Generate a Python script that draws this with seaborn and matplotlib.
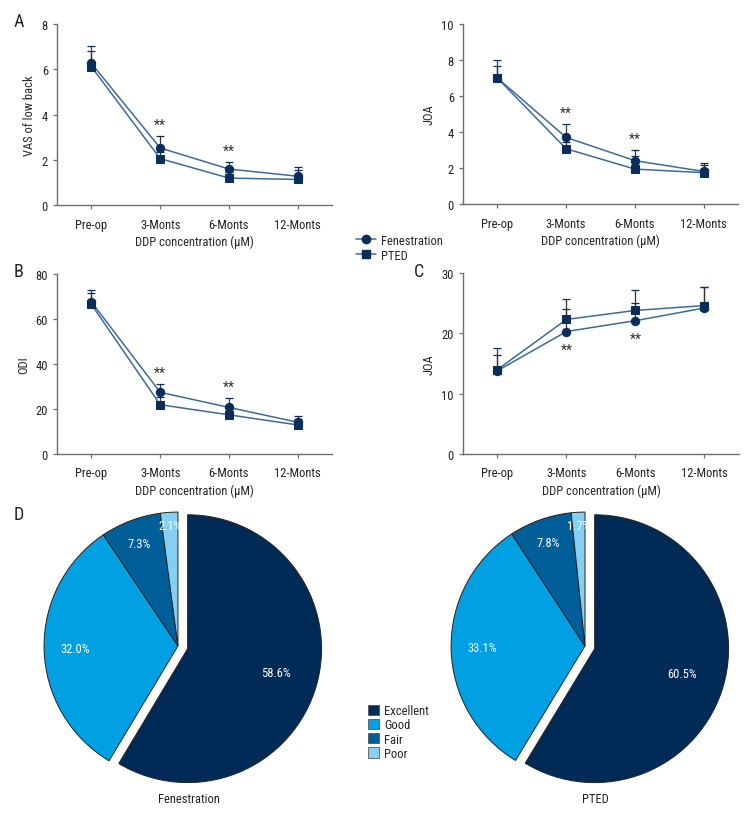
import matplotlib
matplotlib.use("Agg")
import matplotlib.pyplot as plt
from matplotlib import font_manager
from matplotlib.patches import Patch
import numpy as np
import pandas as pd
import seaborn as sns

# time points
times = ["Pre-op", "3-Monts", "6-Monts", "12-Monts"]
groups = ["Fenestration", "PTED"]
sig_times = ["3-Monts", "6-Monts"]

# A: VAS of low back
vas_fen = [6.26, 2.52, 1.59, 1.27]
vas_fen_sd = [0.75, 0.54, 0.32, 0.42]
vas_pted = [6.11, 2.05, 1.19, 1.13]
vas_pted_sd = [0.68, 0.30, 0.25, 0.42]

# A right: JOA
joa1_fen = [7.0, 3.70, 2.41, 1.81]
joa1_fen_sd = [0.98, 0.74, 0.61, 0.47]
joa1_pted = [7.0, 3.07, 1.94, 1.74]
joa1_pted_sd = [0.69, 0.40, 0.74, 0.40]

# B: ODI
odi_fen = [67.6, 27.4, 20.7, 14.1]
odi_fen_sd = [5.2, 3.7, 4.4, 3.0]
odi_pted = [66.5, 21.9, 17.4, 12.9]
odi_pted_sd = [5.2, 3.6, 4.0, 2.6]

# C: JOA
joa2_fen = [13.8, 20.3, 22.1, 24.2]
joa2_fen_sd = [2.6, 3.7, 3.0, 3.4]
joa2_pted = [14.0, 22.3, 23.8, 24.6]
joa2_pted_sd = [3.5, 3.4, 3.3, 3.0]

# D: pies
grades = ["Excellent", "Good", "Fair", "Poor"]
pie_fen = [58.6, 32.0, 7.3, 2.1]
pie_pted = [60.5, 33.1, 7.8, 1.7]

sns.set_style("ticks")
names = {f.name for f in font_manager.fontManager.ttflist}
narrow = [n for n in ["Liberation Sans Narrow", "Roboto Condensed",
                      "Open Sans Condensed", "DejaVu Sans"] if n in names]
plt.rcParams["font.family"] = narrow + ["DejaVu Sans"]
plt.rcParams["font.stretch"] = "condensed"
plt.rcParams["font.size"] = 9

line_col = "#3d6a9c"
mark_col = "#0b2d5b"
axis_col = "#6e6e6e"
pie_cols = ["#002b57", "#00a0e2", "#005f99", "#84d0f4"]
fs = 9


def long_df(fen, fen_sd, pted, pted_sd):
    return pd.DataFrame({
        "time": times * 2,
        "group": [groups[0]] * 4 + [groups[1]] * 4,
        "value": fen + pted,
        "sd": fen_sd + pted_sd,
    })


def line_panel(ax, df, ymax, yticks, ylabel, star_below=False):
    for g in groups:
        sub = df[df["group"] == g]
        ax.errorbar(sub["time"], sub["value"],
                    yerr=[[0] * len(sub), sub["sd"]],
                    fmt="none", ecolor="#333333", elinewidth=0.9,
                    capsize=3, capthick=0.9, zorder=1)
    sns.lineplot(data=df, x="time", y="value", hue="group", style="group",
                 markers={"Fenestration": "o", "PTED": "s"}, dashes=False,
                 palette={"Fenestration": line_col, "PTED": line_col},
                 sort=False, errorbar=None, lw=1.1, markersize=6,
                 ax=ax, legend=False, zorder=3)
    for ln in ax.lines:
        ln.set_markerfacecolor(mark_col)
        ln.set_markeredgecolor(mark_col)
    fen = df[df["group"] == groups[0]]
    for t in sig_times:
        row = fen[fen["time"] == t].iloc[0]
        if star_below:
            ax.annotate("**", xy=(t, row["value"]), xytext=(0, -13),
                        textcoords="offset points", ha="center", va="center",
                        fontsize=10, color="#333333")
        else:
            ax.annotate("**", xy=(t, row["value"] + row["sd"]), xytext=(0, 8),
                        textcoords="offset points", ha="center", va="center",
                        fontsize=10, color="#333333")
    ax.set_xlim(-0.5, 3.5)
    ax.set_ylim(0, ymax)
    ax.set_yticks(yticks)
    ax.set_ylabel(ylabel, fontsize=fs)
    ax.set_xlabel("DDP concentration (μM)", fontsize=fs, labelpad=3)
    sns.despine(ax=ax)
    for s in ["left", "bottom"]:
        ax.spines[s].set_color(axis_col)
        ax.spines[s].set_linewidth(1.0)
    ax.tick_params(colors=axis_col, labelcolor="#222222", labelsize=fs,
                   length=3, width=0.9)
    ax.tick_params(axis="x", pad=6)


fig = plt.figure(figsize=(7.56, 8.28), dpi=100)

ax_a = fig.add_axes([0.0754, 0.7512, 0.364, 0.2186])
ax_a2 = fig.add_axes([0.6124, 0.7524, 0.3638, 0.2174])
ax_b = fig.add_axes([0.0754, 0.4505, 0.364, 0.2174])
ax_c = fig.add_axes([0.6124, 0.4505, 0.3651, 0.2186])

line_panel(ax_a, long_df(vas_fen, vas_fen_sd, vas_pted, vas_pted_sd),
           8, [0, 2, 4, 6, 8], "VAS of low back")
line_panel(ax_a2, long_df(joa1_fen, joa1_fen_sd, joa1_pted, joa1_pted_sd),
           10, [0, 2, 4, 6, 8, 10], "JOA")
line_panel(ax_b, long_df(odi_fen, odi_fen_sd, odi_pted, odi_pted_sd),
           80, [0, 20, 40, 60, 80], "ODI")
line_panel(ax_c, long_df(joa2_fen, joa2_fen_sd, joa2_pted, joa2_pted_sd),
           30, [0, 10, 20, 30], "JOA", star_below=True)

# legend for line plots
handles = [plt.Line2D([], [], color=line_col, lw=1.1, marker=m, markersize=6,
                      markerfacecolor=mark_col, markeredgecolor=mark_col)
           for m in ["o", "s"]]
fig.legend(handles, groups, loc="upper left", bbox_to_anchor=(0.463, 0.724),
           frameon=False, fontsize=fs, handlelength=1.6, handletextpad=0.4,
           labelspacing=0.15, borderpad=0)

# pies
pct_dist = [0.68, 0.77, 0.82, 0.9]
pie_specs = [(pie_fen, "Fenestration", 0.0317), (pie_pted, "PTED", 0.5701)]
for vals, name, left in pie_specs:
    ax = fig.add_axes([left, 0.0326, 0.4074, 0.372])
    wedges, texts, autotexts = ax.pie(
        vals, colors=pie_cols, startangle=90, counterclock=False,
        explode=[0.075, 0, 0, 0], autopct="%1.1f%%", pctdistance=0.75,
        wedgeprops={"edgecolor": "#222222", "linewidth": 0.7},
        textprops={"color": "white", "fontsize": fs})
    for w, t, d, v in zip(wedges, autotexts, pct_dist, vals):
        ang = np.deg2rad((w.theta1 + w.theta2) / 2)
        cx, cy = w.center
        t.set_position((cx + d * np.cos(ang), cy + d * np.sin(ang)))
        t.set_text(f"{v:.1f}%")
    ax.set_xlim(-1.15, 1.15)
    ax.set_ylim(-1.15, 1.15)
    ax.set_aspect("equal")
    ax.axis("off")
    ax.text(0.08, -1.14, name, ha="center", va="center", fontsize=fs,
            color="#222222")

pie_handles = [Patch(facecolor=c, edgecolor="#555555", linewidth=0.6)
               for c in pie_cols]
fig.legend(pie_handles, grades, loc="upper left",
           bbox_to_anchor=(0.478, 0.156), frameon=False, fontsize=fs,
           handlelength=0.9, handleheight=0.9, handletextpad=0.4,
           labelspacing=0.1, borderpad=0)

# panel letters
for lbl, x, y in [("A", 0.018, 0.973), ("B", 0.018, 0.671),
                  ("C", 0.548, 0.671), ("D", 0.018, 0.378)]:
    fig.text(x, y, lbl, fontsize=13, ha="left", va="center", color="#222222")

fig.savefig("out.png", dpi=100)
